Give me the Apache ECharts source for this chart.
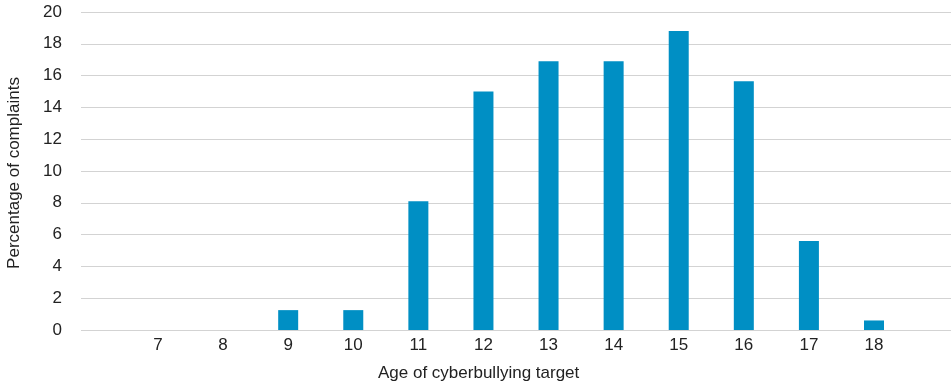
<!DOCTYPE html>
<html>
<head>
<meta charset="utf-8">
<script src="https://cdn.jsdelivr.net/npm/echarts@6/dist/echarts.min.js"></script>
<style>html,body{margin:0;padding:0;background:#fff}#c{width:951px;height:388px}</style>
</head>
<body>
<div id="c"></div>
<script>
const ages = [7, 8, 9, 10, 11, 12, 13, 14, 15, 16, 17, 18];
const percentages = [0, 0, 1.25, 1.25, 8.1, 15.0, 16.9, 16.9, 18.8, 15.65, 5.6, 0.6];
const yTicks = [0, 2, 4, 6, 8, 10, 12, 14, 16, 18, 20];
const xTitle = 'Age of cyberbullying target';
const yTitle = 'Percentage of complaints';

const chart = echarts.init(document.getElementById('c'));
const font = '"Liberation Sans", Arial, Helvetica, sans-serif';
chart.setOption({
  animation: false,
  grid: { left: 81, right: 0, top: 12, bottom: 58, containLabel: false },
  xAxis: {
    type: 'value',
    min: 5.817,
    max: 19.183,
    axisLine: { show: false },
    axisTick: { show: false },
    splitLine: { show: false },
    axisLabel: {
      customValues: ages,
      color: '#222',
      fontSize: 17,
      fontFamily: font,
      margin: 7,
      formatter: v => String(v)
    }
  },
  yAxis: {
    type: 'value',
    min: yTicks[0],
    max: yTicks[yTicks.length - 1],
    interval: 2,
    axisLine: { show: false },
    axisTick: { show: false },
    splitLine: { lineStyle: { color: '#d3d3d3', width: 1 } },
    axisLabel: { color: '#222', fontSize: 17, fontFamily: font, margin: 19, padding: [7, 0, 0, 0] }
  },
  graphic: [
    { type: 'text', left: 378, top: 365, style: { text: xTitle, fill: '#222', font: '17px ' + font } },
    { type: 'text', x: 6, y: 173, rotation: Math.PI / 2, style: { text: yTitle, fill: '#222', font: '17px ' + font, align: 'center', verticalAlign: 'top' } }
  ],
  series: [{
    type: 'bar',
    data: ages.map((a, i) => [a, percentages[i]]),
    barWidth: 20,
    itemStyle: { color: '#008fc4' }
  }]
});
</script>
</body>
</html>
